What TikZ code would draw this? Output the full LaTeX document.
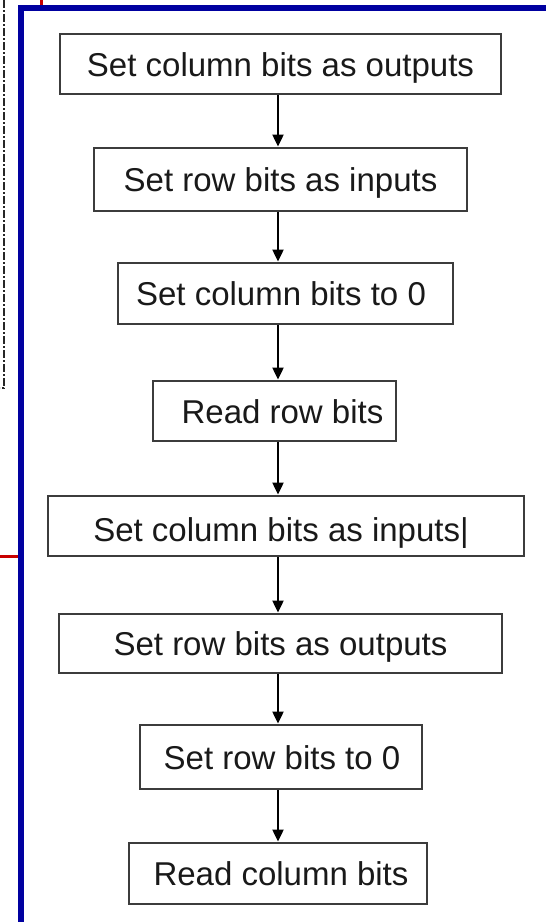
\documentclass[tikz,border=0pt]{standalone}
\usepackage{fontspec}
\setmainfont{Liberation Sans}
\usetikzlibrary{arrows.meta}
\definecolor{frameblue}{RGB}{0,0,160}
\definecolor{framered}{RGB}{200,0,0}
\definecolor{boxline}{RGB}{60,60,60}
\definecolor{txt}{RGB}{25,25,25}
\tikzset{
  stepbox/.style={draw=boxline, line width=2.8pt, inner sep=0pt, fill=white},
  steptext/.style={anchor=base, inner sep=0pt, text=txt, font=\fontsize{33}{39}\selectfont},
  flowarrow/.style={draw=black, line width=2pt, -{Triangle[length=12pt,width=11pt]}},
}
\begin{document}
\begin{tikzpicture}[x=1pt,y=-1pt]
\useasboundingbox[fill=white] (0,0) rectangle (546,922);
% background frame pieces
\draw[black!85, line width=2pt, dash pattern=on 8pt off 2pt on 2pt off 2pt] (4,0) -- (4,388) -- (0,388);
\draw[framered, line width=3.5pt] (41.5,0) -- (41.5,6);
\draw[framered, line width=3pt] (0,556) -- (20,556);
\draw[frameblue, line width=6pt] (21,922) -- (21,7.5) -- (546,7.5);
% boxes
\node[stepbox, minimum width=441pt, minimum height=60pt] (b1) at (280.5,64) {};
\node[stepbox, minimum width=373pt, minimum height=63pt] (b2) at (280.5,179.5) {};
\node[stepbox, minimum width=335pt, minimum height=61pt] (b3) at (285.5,293.5) {};
\node[stepbox, minimum width=243pt, minimum height=60pt] (b4) at (274.5,411) {};
\node[stepbox, minimum width=476pt, minimum height=60pt] (b5) at (286,526) {};
\node[stepbox, minimum width=443pt, minimum height=59pt] (b6) at (280.5,643.5) {};
\node[stepbox, minimum width=282pt, minimum height=64pt] (b7) at (281,757) {};
\node[stepbox, minimum width=298pt, minimum height=61pt] (b8) at (278,873.5) {};
% texts
\node[steptext] (t1) at (280.5,76) {Set column bits as outputs};
\node[steptext] (t2) at (280.5,191.5) {Set row bits as inputs};
\node[steptext] (t3) at (281,305.5) {Set column bits to 0};
\node[steptext] (t4) at (282.5,423) {Read row bits};
\node[steptext] (t5) at (281,541.5) {Set column bits as inputs|};
\node[steptext] (t6) at (280.5,655.5) {Set row bits as outputs};
\node[steptext] (t7) at (282,769) {Set row bits to 0};
\node[steptext] (t8) at (281,885.5) {Read column bits};
% arrows
\coordinate (ax) at (278,0);
\draw[flowarrow] (b1.south -| ax) -- (b2.north -| ax);
\draw[flowarrow] (b2.south -| ax) -- (b3.north -| ax);
\draw[flowarrow] (b3.south -| ax) -- (b4.north -| ax);
\draw[flowarrow] (b4.south -| ax) -- (b5.north -| ax);
\draw[flowarrow] (b5.south -| ax) -- (b6.north -| ax);
\draw[flowarrow] (b6.south -| ax) -- (b7.north -| ax);
\draw[flowarrow] (b7.south -| ax) -- (b8.north -| ax);
\end{tikzpicture}
\end{document}
